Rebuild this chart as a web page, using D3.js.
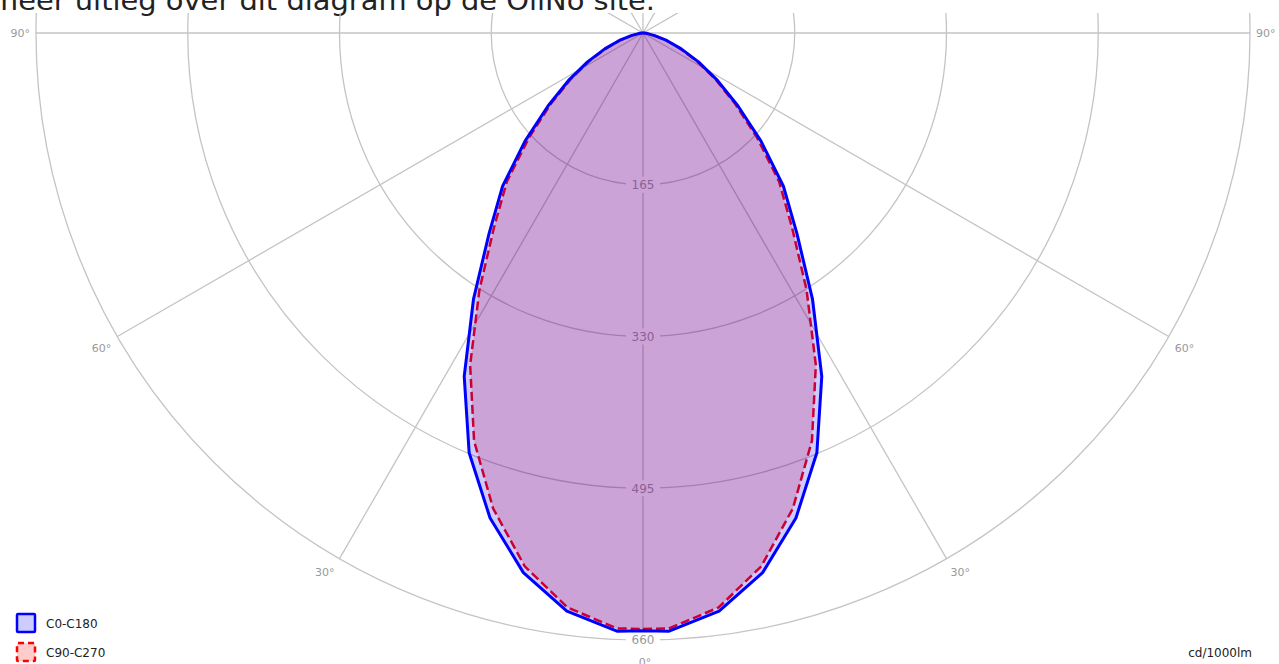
<!DOCTYPE html>
<html>
<head>
<meta charset="utf-8">
<script src="https://cdn.jsdelivr.net/npm/d3@7/dist/d3.min.js"></script>
<style>
  body { margin: 0; background: #fff; overflow: hidden; }
  text { font-family: "DejaVu Sans", Verdana, sans-serif; }
</style>
</head>
<body>
<svg id="chart" width="1279" height="664"></svg>
<script>
// gamma angles (degrees from straight down) and intensities in cd/1000lm
var angles = [0, 2.5, 7.5, 12.5, 17.5, 22.5, 27.5, 32.5, 37.5, 42.5, 47.5, 52.5, 57.5, 62.5, 67.5, 72.5, 77.5, 82.5, 87.5, 90];
var c0c180 = [650, 651, 634, 601, 553, 494, 421, 343, 275, 226, 174, 130, 96, 68, 45, 27, 13, 5, 1, 0];
var c90c270 = [648, 648, 630, 594, 542, 480, 407, 331, 266, 219, 168, 126, 93, 66, 43, 26, 12, 5, 1, 0];

var ringValues = [165, 330, 495, 660];
var spokeAngles = [0, 30, 60, 90, 120, 150, 180, 210, 240, 270, 300, 330];
var angleLabels = [
  {a: 90, t: '90°'}, {a: -90, t: '90°'},
  {a: 60, t: '60°'}, {a: -60, t: '60°'},
  {a: 30, t: '30°'}, {a: -30, t: '30°'},
  {a: 0, t: '0°'}
];
var legendItems = ['C0-C180', 'C90-C270'];

var cx = 643, cy = 33;
var svg = d3.select('#chart');

var r = d3.scaleLinear().domain([0, 660]).range([0, 607]);

// convert "degrees from down" to d3 radial angle (0 = up, clockwise)
function rad(a) { return Math.PI - a * Math.PI / 180; }

svg.append('text')
  .attr('x', -10)
  .attr('y', 10)
  .attr('font-size', 27)
  .attr('fill', '#222')
  .attr('textLength', 665)
  .attr('lengthAdjust', 'spacingAndGlyphs')
  .text('meer uitleg over dit diagram op de OliNo site.');

svg.append('clipPath').attr('id', 'plotclip')
  .append('rect').attr('x', 0).attr('y', 13).attr('width', 1279).attr('height', 651);

var g = svg.append('g')
  .attr('clip-path', 'url(#plotclip)')
  .append('g')
  .attr('transform', 'translate(' + cx + ',' + cy + ')');

// grid
g.selectAll('circle.ring')
  .data(ringValues)
  .enter()
  .append('circle')
  .attr('class', 'ring')
  .attr('r', function(d) { return r(d); })
  .attr('fill', 'none')
  .attr('stroke', '#c4c4c4')
  .attr('stroke-width', 1.3);

g.selectAll('line.spoke')
  .data(spokeAngles)
  .enter()
  .append('line')
  .attr('class', 'spoke')
  .attr('x1', 0).attr('y1', 0)
  .attr('x2', function(d) { return r(660) * Math.sin(rad(d)); })
  .attr('y2', function(d) { return -r(660) * Math.cos(rad(d)); })
  .attr('stroke', '#c4c4c4')
  .attr('stroke-width', 1.3);

// ring value labels with white background
var rl = g.selectAll('g.rlabel')
  .data(ringValues)
  .enter()
  .append('g')
  .attr('class', 'rlabel')
  .attr('transform', function(d) { return 'translate(0,' + r(d) + ')'; });

rl.append('rect')
  .attr('x', -17).attr('y', -8)
  .attr('width', 34).attr('height', 16)
  .attr('fill', '#fff');

rl.append('text')
  .attr('text-anchor', 'middle')
  .attr('dy', '0.36em')
  .attr('font-size', 12)
  .attr('fill', '#999')
  .text(function(d) { return d; });

// curves
function fullCurve(vals) {
  var pts = [];
  for (var i = 0; i < angles.length; i++) pts.push([angles[i], vals[i]]);
  for (var j = angles.length - 1; j >= 0; j--) pts.push([-angles[j], vals[j]]);
  return pts;
}

var radial = d3.lineRadial()
  .angle(function(d) { return rad(d[0]); })
  .radius(function(d) { return r(d[1]); })
  .curve(d3.curveLinearClosed);

g.append('path')
  .attr('d', radial(fullCurve(c90c270)))
  .attr('fill', 'rgba(255,0,0,0.2)')
  .attr('stroke', '#ff0000')
  .attr('stroke-width', 2.5)
  .attr('stroke-dasharray', '9,4');

g.append('path')
  .attr('d', radial(fullCurve(c0c180)))
  .attr('fill', 'rgba(0,0,255,0.2)')
  .attr('stroke', '#0000ff')
  .attr('stroke-width', 3)
  .attr('stroke-linejoin', 'round');

// angle labels
var labelPos = {
  '90': {dx: 6, dy: 0, anchor: 'start'},
  '-90': {dx: -6, dy: 0, anchor: 'end'},
  '60': {dx: 6, dy: 12, anchor: 'start'},
  '-60': {dx: -6, dy: 12, anchor: 'end'},
  '30': {dx: 4, dy: 13, anchor: 'start'},
  '-30': {dx: -5, dy: 13, anchor: 'end'},
  '0': {dx: 2, dy: 22, anchor: 'middle'}
};

svg.selectAll('text.alabel')
  .data(angleLabels)
  .enter()
  .append('text')
  .attr('class', 'alabel')
  .attr('x', function(d) { return cx + r(660) * Math.sin(rad(d.a)) + labelPos[d.a].dx; })
  .attr('y', function(d) { return cy - r(660) * Math.cos(rad(d.a)) + labelPos[d.a].dy; })
  .attr('dy', '0.36em')
  .attr('text-anchor', function(d) { return labelPos[d.a].anchor; })
  .attr('font-size', 11)
  .attr('fill', '#999')
  .text(function(d) { return d.t; });

// legend
var leg = svg.selectAll('g.legend')
  .data(legendItems)
  .enter()
  .append('g')
  .attr('class', 'legend')
  .attr('transform', function(d, i) { return 'translate(17,' + (614 + i * 29) + ')'; });

leg.append('rect')
  .attr('width', 18).attr('height', 18)
  .attr('rx', 1)
  .attr('fill', function(d, i) { return i === 0 ? '#ccccff' : '#ffcccc'; })
  .attr('stroke', function(d, i) { return i === 0 ? '#0000ff' : '#ff0000'; })
  .attr('stroke-width', 2.5)
  .attr('stroke-dasharray', function(d, i) { return i === 0 ? null : '6,4'; });

leg.append('text')
  .attr('x', 29)
  .attr('y', 10)
  .attr('dy', '0.36em')
  .attr('font-size', 12)
  .attr('fill', '#222')
  .text(function(d) { return d; });

svg.append('text')
  .attr('x', 1252)
  .attr('y', 653)
  .attr('dy', '0.36em')
  .attr('text-anchor', 'end')
  .attr('font-size', 12)
  .attr('fill', '#222')
  .text('cd/1000lm');
</script>
</body>
</html>
